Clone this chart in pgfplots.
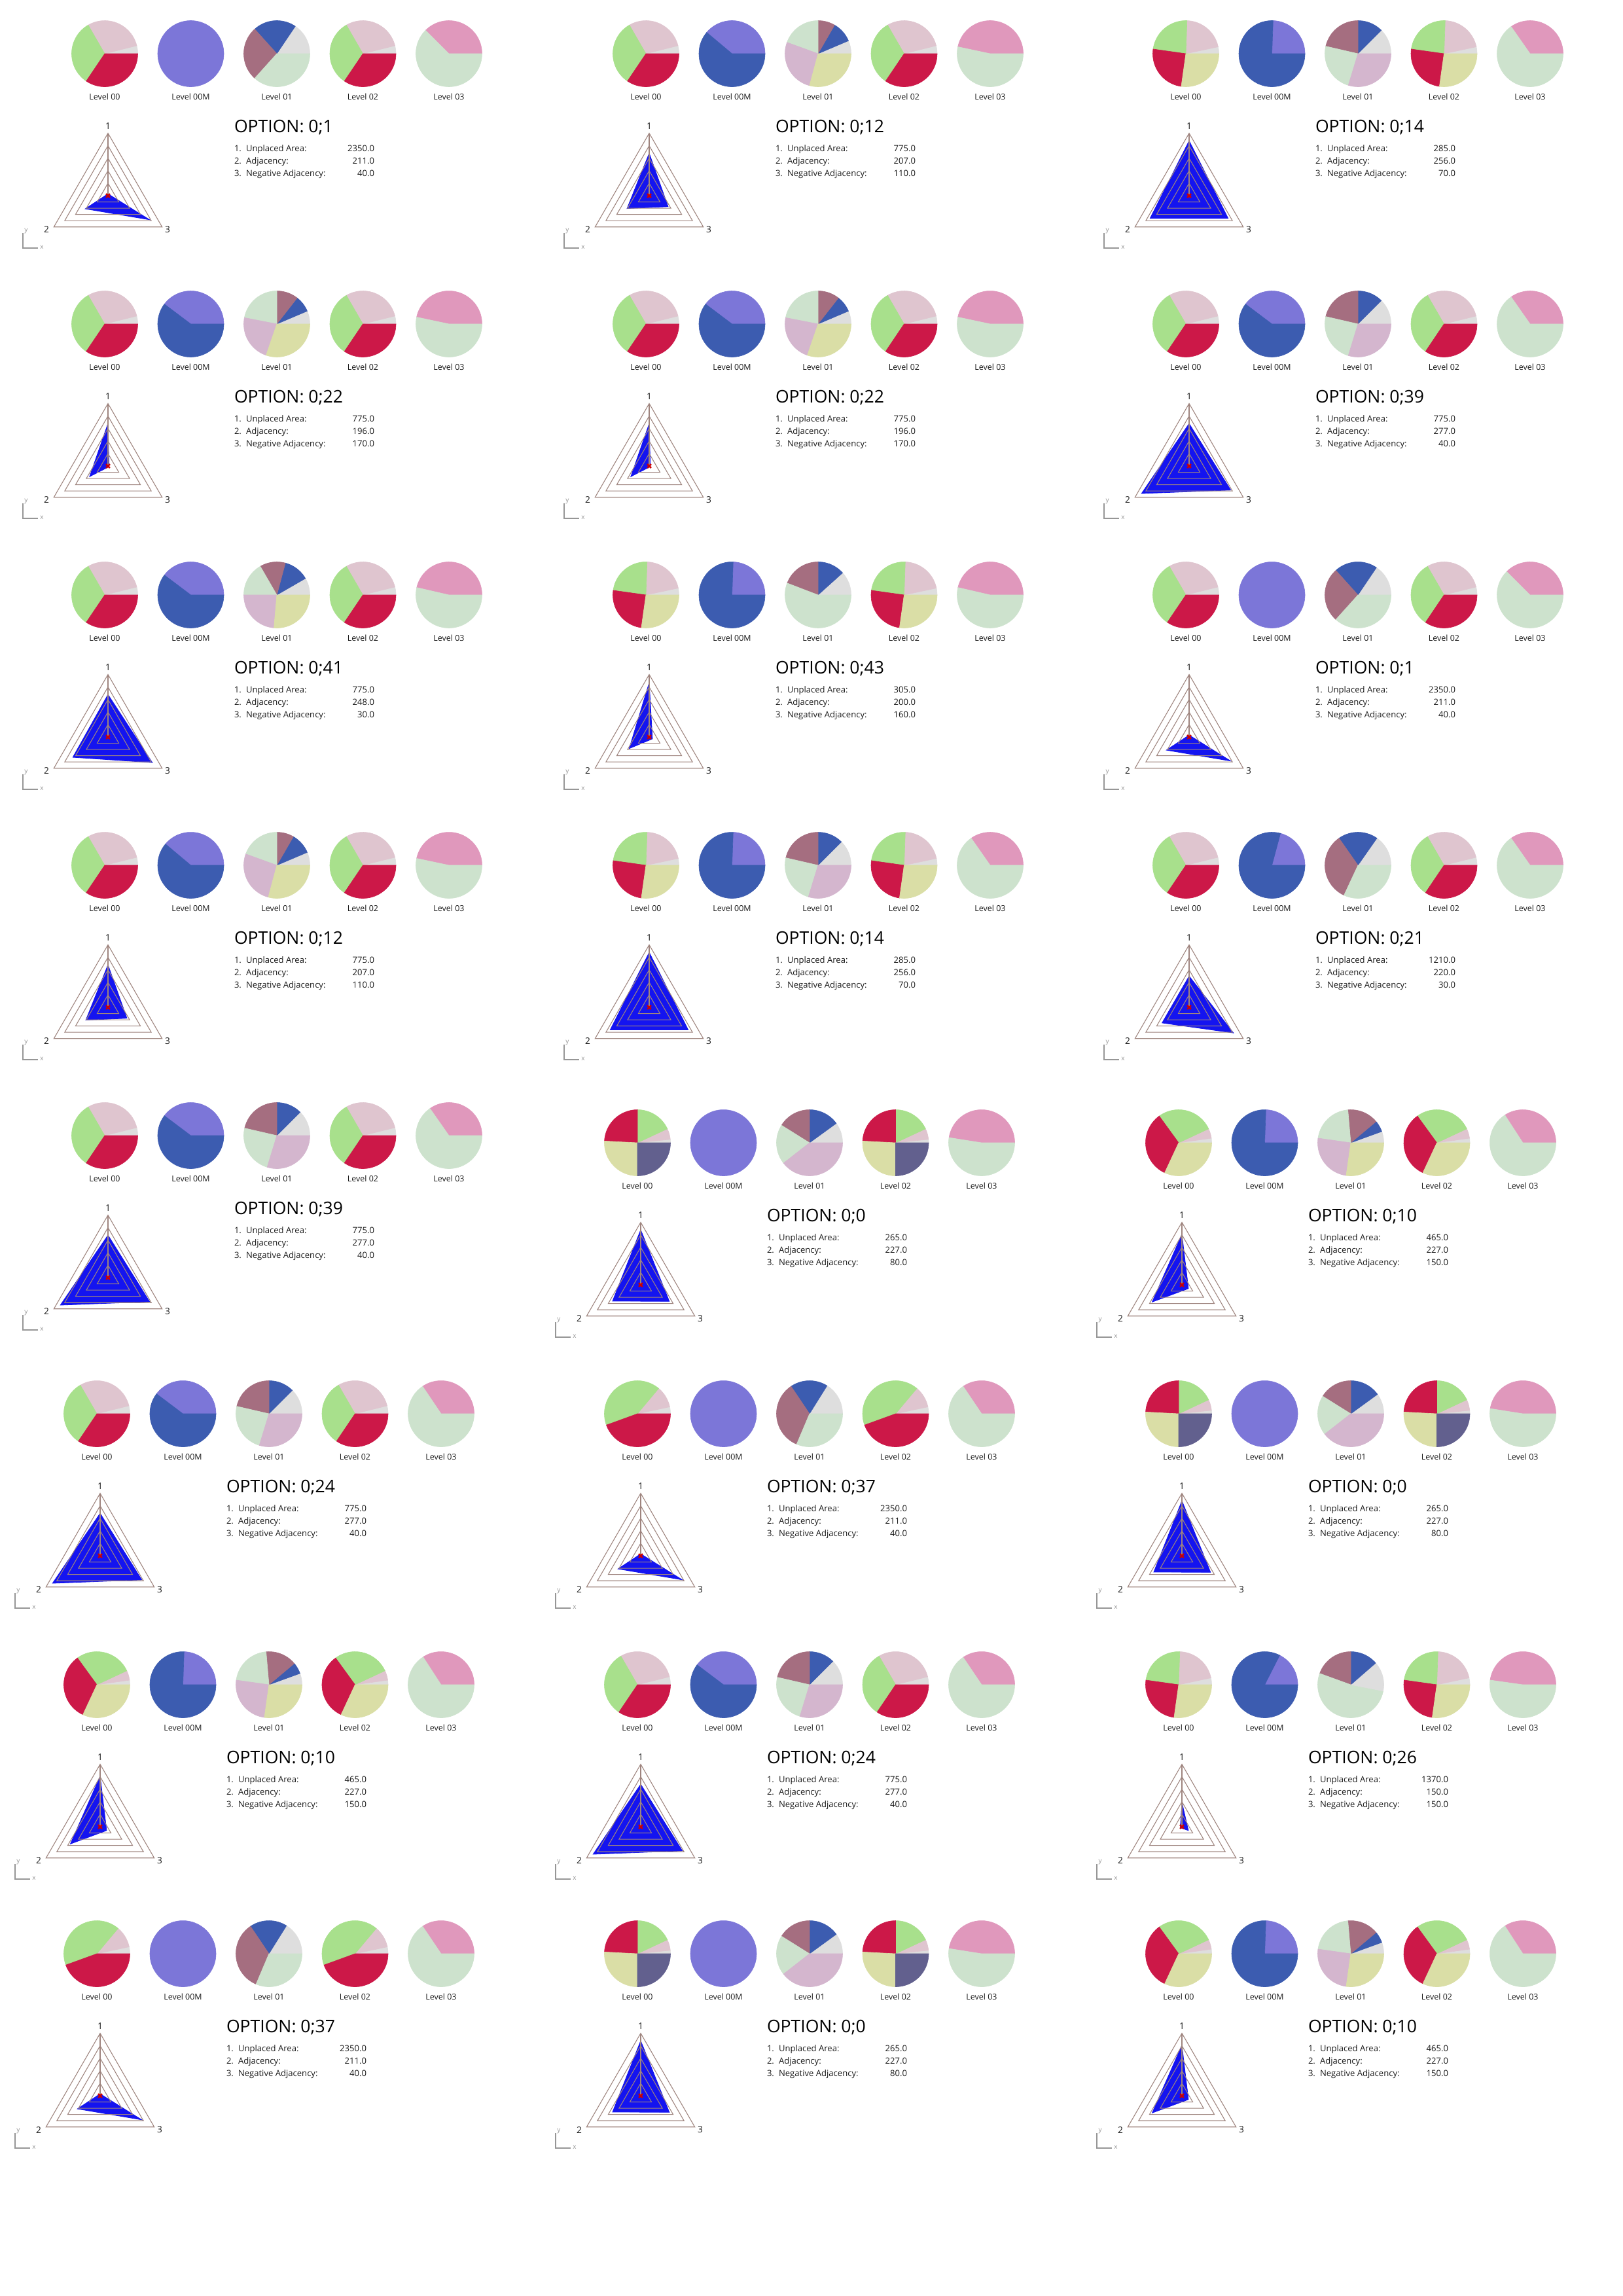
\documentclass[border=0pt]{standalone}
\usepackage{fontspec}
\setmainfont{Open Sans}
\usepackage{pgfplots}
\pgfplotsset{compat=1.18}

\definecolor{cRed}{RGB}{204,24,72}
\definecolor{cGreen}{RGB}{168,224,140}
\definecolor{cPink}{RGB}{223,197,207}
\definecolor{cGray}{RGB}{222,222,222}
\definecolor{cPeri}{RGB}{124,118,216}
\definecolor{cBlue}{RGB}{60,92,176}
\definecolor{cMauve}{RGB}{165,110,128}
\definecolor{cMint}{RGB}{205,226,205}
\definecolor{cHot}{RGB}{224,152,188}
\definecolor{cLilac}{RGB}{212,182,206}
\definecolor{cOlive}{RGB}{218,222,166}
\definecolor{cSlate}{RGB}{98,96,142}
\definecolor{cRadar}{RGB}{20,20,240}
\definecolor{cGrid}{RGB}{158,132,126}
\definecolor{cMark}{RGB}{205,0,0}
\definecolor{cAx}{RGB}{150,150,150}
\definecolor{cTxt}{RGB}{25,25,25}

\def\pxu{0.240931pt}
\newcommand\fs[1]{\fontsize{#1}{#1}\selectfont}

\pgfplotsset{
 pieax/.style={hide axis, scale only axis, width=24.33pt, height=24.33pt,
   xmin=-1,xmax=1,ymin=-1,ymax=1, anchor=origin, clip=false},
 radax/.style={hide axis, scale only axis, width=46pt, height=46pt,
   xmin=-1,xmax=1,ymin=-1,ymax=1, anchor=origin, clip=false},
 grd/.style={color=cGrid, line width=0.26pt, data cs=polar, mark=none}
}
\tikzset{tx/.style={inner sep=0pt, outer sep=0pt, text=cTxt}}

% one pie slice: start angle, end angle, colour (angles in degrees, polar data)
\newcommand\psl[3]{%
  \pgfmathtruncatemacro\slN{max(2,ceil(((#2)-(#1))/4))}%
  \pgfmathsetmacro\slD{((#2)-(#1))/\slN}%
  \xdef\slcoords{(0,0) (#1,1)}%
  \foreach \k in {1,...,\slN}{%
    \pgfmathsetmacro\sang{(#1)+\slD*\k}%
    \xdef\slcoords{\slcoords\space(\sang,1)}%
  }%
  \edef\sltmp{\noexpand\addplot[fill=#3,draw=#3,line width=0.15pt,data cs=polar] coordinates {\slcoords} -- cycle;}%
  \sltmp
}

\makeatletter
\newcommand\setpies[6]{\@namedef{PA#1}{#2}\@namedef{PB#1}{#3}\@namedef{PC#1}{#4}\@namedef{PD#1}{#5}\@namedef{PE#1}{#6}}
\newcommand\settext[4]{\@namedef{TA#1}{#2}\@namedef{TB#1}{#3}\@namedef{TC#1}{#4}}
\newcommand\setradar[2]{\@namedef{R#1}{#2}}
\makeatother

% pie types
\def\pieA{\psl{0}{14}{cGray}\psl{14}{120}{cPink}\psl{120}{236}{cGreen}\psl{236}{360}{cRed}}
\def\pieB{\psl{0}{12}{cGray}\psl{12}{88}{cPink}\psl{88}{172}{cGreen}\psl{172}{262}{cRed}\psl{262}{360}{cOlive}}
\def\pieD{\psl{0}{6}{cGray}\psl{6}{25}{cPink}\psl{25}{90}{cGreen}\psl{90}{177}{cRed}\psl{177}{270}{cOlive}\psl{270}{360}{cSlate}}
\def\pieE{\psl{0}{8}{cGray}\psl{8}{25}{cPink}\psl{25}{126}{cGreen}\psl{126}{245}{cRed}\psl{245}{360}{cOlive}}
\def\pieF{\psl{0}{12}{cGray}\psl{12}{50}{cPink}\psl{50}{200}{cGreen}\psl{200}{360}{cRed}}
\def\pieP{\psl{0}{360}{cPeri}}
\def\mPB#1{\psl{0}{#1}{cPeri}\psl{#1}{360}{cBlue}}
\def\tH#1{\psl{0}{#1}{cHot}\psl{#1}{360}{cMint}}
\def\lC{\psl{0}{45}{cGray}\psl{45}{90}{cBlue}\psl{90}{167}{cMauve}\psl{167}{253}{cMint}\psl{253}{360}{cLilac}}

\setpies{1}{\pieA}{\pieP}{\psl{0}{56}{cGray}\psl{56}{132}{cBlue}\psl{132}{228}{cMauve}\psl{228}{360}{cMint}}{\pieA}{\tH{135}}
\setpies{12}{\pieA}{\mPB{140}}{\psl{0}{23}{cGray}\psl{23}{60}{cBlue}\psl{60}{90}{cMauve}\psl{90}{160}{cMint}\psl{160}{255}{cLilac}\psl{255}{360}{cOlive}}{\pieA}{\tH{168}}
\setpies{14}{\pieB}{\mPB{88}}{\lC}{\pieB}{\tH{125}}
\setpies{22}{\pieA}{\mPB{143}}{\psl{0}{23}{cGray}\psl{23}{52}{cBlue}\psl{52}{90}{cMauve}\psl{90}{169}{cMint}\psl{169}{251}{cLilac}\psl{251}{360}{cOlive}}{\pieA}{\tH{168}}
\setpies{39}{\pieA}{\mPB{143}}{\lC}{\pieA}{\tH{125}}
\setpies{24}{\pieA}{\mPB{143}}{\lC}{\pieA}{\tH{124}}
\setpies{41}{\pieA}{\mPB{143}}{\psl{0}{30}{cGray}\psl{30}{75}{cBlue}\psl{75}{120}{cMauve}\psl{120}{180}{cMint}\psl{180}{265}{cLilac}\psl{265}{360}{cOlive}}{\pieA}{\tH{167}}
\setpies{43}{\pieB}{\mPB{88}}{\psl{0}{42}{cGray}\psl{42}{90}{cBlue}\psl{90}{159}{cMauve}\psl{159}{360}{cMint}}{\pieB}{\tH{167}}
\setpies{21}{\pieA}{\mPB{75}}{\psl{0}{55}{cGray}\psl{55}{125}{cBlue}\psl{125}{245}{cMauve}\psl{245}{360}{cMint}}{\pieA}{\tH{125}}
\setpies{0}{\pieD}{\pieP}{\psl{0}{36}{cGray}\psl{36}{90}{cBlue}\psl{90}{148}{cMauve}\psl{148}{218}{cMint}\psl{218}{360}{cLilac}}{\pieD}{\tH{171}}
\setpies{10}{\pieE}{\mPB{88}}{\psl{0}{20}{cGray}\psl{20}{40}{cBlue}\psl{40}{95}{cMauve}\psl{95}{172}{cMint}\psl{172}{262}{cLilac}\psl{262}{360}{cOlive}}{\pieE}{\tH{123}}
\setpies{37}{\pieF}{\pieP}{\psl{0}{58}{cGray}\psl{58}{124}{cBlue}\psl{124}{247}{cMauve}\psl{247}{360}{cMint}}{\pieF}{\tH{124}}
\setpies{26}{\pieB}{\mPB{63}}{\psl{0}{41}{cGray}\psl{41}{90}{cBlue}\psl{90}{160}{cMauve}\psl{160}{349}{cMint}\psl{349}{360}{cGray}}{\pieB}{\tH{172}}

\settext{1}{2350.0}{211.0}{40.0}
\settext{12}{775.0}{207.0}{110.0}
\settext{14}{285.0}{256.0}{70.0}
\settext{22}{775.0}{196.0}{170.0}
\settext{39}{775.0}{277.0}{40.0}
\settext{41}{775.0}{248.0}{30.0}
\settext{43}{305.0}{200.0}{160.0}
\settext{21}{1210.0}{220.0}{30.0}
\settext{0}{265.0}{227.0}{80.0}
\settext{10}{465.0}{227.0}{150.0}
\settext{24}{775.0}{277.0}{40.0}
\settext{37}{2350.0}{211.0}{40.0}
\settext{26}{1370.0}{150.0}{150.0}

\setradar{1}{(90,0.03) (210,0.42) (330,0.77)}
\setradar{12}{(90,0.68) (210,0.41) (330,0.35)}
\setradar{14}{(90,0.88) (210,0.72) (330,0.72)}
\setradar{22}{(90,0.68) (210,0.34) (330,0.02)}
\setradar{39}{(90,0.68) (210,0.88) (330,0.77)}
\setradar{41}{(90,0.68) (210,0.65) (330,0.82)}
\setradar{43}{(90,0.87) (210,0.37) (330,0.06)}
\setradar{21}{(90,0.50) (210,0.50) (330,0.82)}
\setradar{0}{(90,0.88) (210,0.52) (330,0.53)}
\setradar{10}{(90,0.81) (210,0.55) (330,0.12)}
\setradar{24}{(90,0.68) (210,0.88) (330,0.77)}
\setradar{37}{(90,0.03) (210,0.42) (330,0.77)}
\setradar{26}{(90,0.39) (210,0.03) (330,0.12)}

\newcommand\pie[3]{%
 \pgfmathsetlengthmacro\pieX{(#1)*\pxu}\pgfmathsetlengthmacro\pieY{-(#2)*\pxu}%
 \begin{axis}[pieax, at={(\pieX,\pieY)}]#3\end{axis}}

\newcommand\radar[3]{%
 \pgfmathsetlengthmacro\pieX{(#1)*\pxu}\pgfmathsetlengthmacro\pieY{-(#2)*\pxu}%
 \begin{axis}[radax, at={(\pieX,\pieY)}]
  \edef\sltmp{\noexpand\addplot[fill=cRadar,draw=cRadar,line width=0.2pt,data cs=polar] coordinates {\csname R#3\endcsname} -- cycle;}\sltmp
  \addplot[grd] coordinates {(90,0.2) (210,0.2) (330,0.2)} -- cycle;
  \addplot[grd] coordinates {(90,0.4) (210,0.4) (330,0.4)} -- cycle;
  \addplot[grd] coordinates {(90,0.6) (210,0.6) (330,0.6)} -- cycle;
  \addplot[grd] coordinates {(90,0.8) (210,0.8) (330,0.8)} -- cycle;
  \addplot[grd] coordinates {(90,1) (210,1) (330,1)} -- cycle;
  \addplot[grd] coordinates {(90,1) (0,0)};
  \addplot[only marks, mark=x, mark size=1.0pt, color=cMark, mark options={line width=0.6pt}] coordinates {(0,0)};
 \end{axis}}

\newcommand\panel[3]{%
 \pie{#1}{#2}{\csname PA#3\endcsname}%
 \pie{#1+131.5}{#2}{\csname PB#3\endcsname}%
 \pie{#1+263}{#2}{\csname PC#3\endcsname}%
 \pie{#1+394.5}{#2}{\csname PD#3\endcsname}%
 \pie{#1+526}{#2}{\csname PE#3\endcsname}%
 \radar{#1+5}{#2+217}{#3}%
 \begin{scope}[x=\pxu,y=-\pxu]
  \node[tx,font=\fs{3}] at (#1,#2+66) {Level 00};
  \node[tx,font=\fs{3}] at (#1+131.5,#2+66) {Level 00M};
  \node[tx,font=\fs{3}] at (#1+263,#2+66) {Level 01};
  \node[tx,font=\fs{3}] at (#1+394.5,#2+66) {Level 02};
  \node[tx,font=\fs{3}] at (#1+526,#2+66) {Level 03};
  \node[tx,anchor=base west,font=\fs{6.4},text=black] at (#1+198,#2+120) {OPTION: 0;#3};
  \node[tx,anchor=base west,font=\fs{3.15}] at (#1+198,#2+149) {1.};
  \node[tx,anchor=base west,font=\fs{3.15}] at (#1+216,#2+149) {Unplaced Area:};
  \node[tx,anchor=base east,font=\fs{3.15}] at (#1+412,#2+149) {\csname TA#3\endcsname};
  \node[tx,anchor=base west,font=\fs{3.15}] at (#1+198,#2+168) {2.};
  \node[tx,anchor=base west,font=\fs{3.15}] at (#1+216,#2+168) {Adjacency:};
  \node[tx,anchor=base east,font=\fs{3.15}] at (#1+412,#2+168) {\csname TB#3\endcsname};
  \node[tx,anchor=base west,font=\fs{3.15}] at (#1+198,#2+187) {3.};
  \node[tx,anchor=base west,font=\fs{3.15}] at (#1+216,#2+187) {Negative Adjacency:};
  \node[tx,anchor=base east,font=\fs{3.15}] at (#1+412,#2+187) {\csname TC#3\endcsname};
  \node[tx,font=\fs{3.3}] at (#1+5,#2+111) {1};
  \node[tx,font=\fs{3.3}] at (#1-89,#2+269) {2};
  \node[tx,font=\fs{3.3}] at (#1+96,#2+269) {3};
  \draw[cAx,line width=0.3pt] (#1-125,#2+274) -- (#1-125,#2+297) -- (#1-102,#2+297);
  \node[tx,font=\fs{2.4},text=cAx] at (#1-120,#2+271) {y};
  \node[tx,font=\fs{2.4},text=cAx] at (#1-96,#2+296) {x};
 \end{scope}%
}

\begin{document}
\begin{tikzpicture}
\path[use as bounding box] (0,0) rectangle ({2480*\pxu},{-3508*\pxu});
\panel{160}{82}{1}
\panel{987}{82}{12}
\panel{1812}{82}{14}
\panel{160}{495}{22}
\panel{987}{495}{22}
\panel{1812}{495}{39}
\panel{160}{909}{41}
\panel{987}{909}{43}
\panel{1812}{909}{1}
\panel{160}{1322}{12}
\panel{987}{1322}{14}
\panel{1812}{1322}{21}
\panel{160}{1735}{39}
\panel{974}{1746}{0}
\panel{1801}{1746}{10}
\panel{148}{2160}{24}
\panel{974}{2160}{37}
\panel{1801}{2160}{0}
\panel{148}{2574}{10}
\panel{974}{2574}{24}
\panel{1801}{2574}{26}
\panel{148}{2985}{37}
\panel{974}{2985}{0}
\panel{1801}{2985}{10}
\end{tikzpicture}
\end{document}
